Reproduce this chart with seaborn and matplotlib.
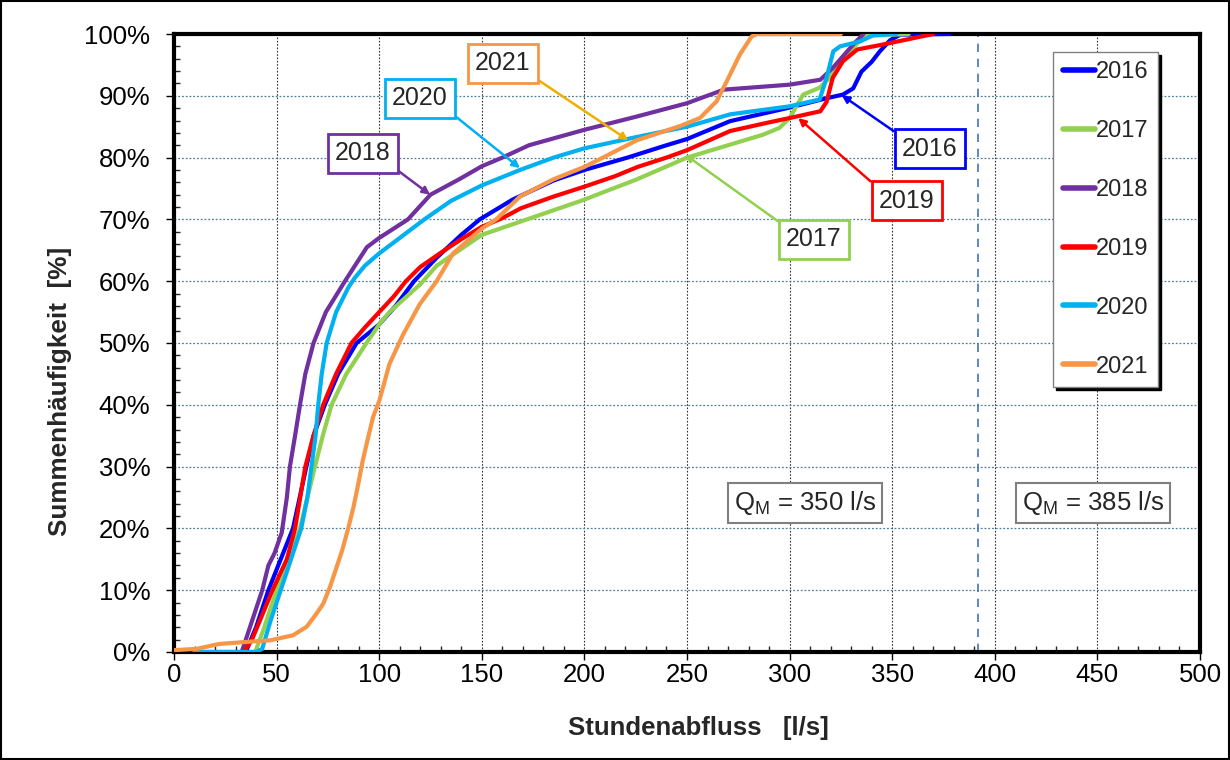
import matplotlib
matplotlib.use("Agg")
import matplotlib.pyplot as plt
from matplotlib import font_manager
from matplotlib.ticker import MultipleLocator, FuncFormatter
from matplotlib.patches import Rectangle
import pandas as pd
import seaborn as sns

# Summenhäufigkeit der Stundenabflüsse je Jahr (Abfluss in l/s, Häufigkeit in %)
x_2016 = [35, 40, 46, 52, 58, 64.5, 68, 73.5, 80, 89, 100, 108, 117, 128, 140, 149, 165, 185,
          200, 221, 240, 250, 271, 300, 318, 326, 331, 335, 340, 344, 349, 354, 378]
y_2016 = [0, 4, 10, 15, 20, 30, 35, 40, 45, 50, 53, 56, 60, 63.8, 67.5, 70, 73.2, 76.3,
          78, 80, 82, 83, 85.9, 88.1, 89.6, 90.2, 91.2, 93.9, 95.5, 97.2, 99, 99.9, 100]

x_2017 = [39.6, 44, 50, 55, 61.4, 65, 68.7, 72.5, 76.8, 84, 93.8, 100, 105, 120, 128, 150, 172,
          200, 210, 225, 250, 271, 287, 295, 300, 306.6, 314.6, 319.5, 324.4, 329.3, 334.2,
          337.4, 358]
y_2017 = [0, 4, 10, 15, 20, 25, 30, 35, 40, 45, 50, 53, 55, 59.5, 62.5, 67.5, 70,
          73.2, 74.5, 76.4, 80, 82.1, 83.7, 84.8, 86.4, 90.2, 91.3, 92.9, 95.1, 97.2, 98.9,
          99.7, 100]

x_2018 = [33, 36, 43, 46, 49, 52.5, 55, 56.5, 59, 61.4, 64, 68, 74, 83.3, 94, 100, 114, 125,
          139, 150, 160, 173, 200, 225, 250, 268, 300, 315, 321, 331, 336]
y_2018 = [0, 3, 10, 14, 16, 19.3, 25, 30, 35, 40, 45, 50, 55, 60, 65.5, 67, 70, 74,
          76.5, 78.6, 80, 82, 84.5, 86.6, 88.8, 91, 91.8, 92.6, 94.5, 98.3, 100]

x_2019 = [34, 38, 48, 55, 59, 64, 68, 72.7, 79, 86.5, 93, 100, 107, 113, 120, 130, 140, 150,
          160, 169, 185, 200, 215, 226, 240, 250, 271, 290, 300, 315, 318, 321, 326, 333, 344,
          357, 370]
y_2019 = [0, 2, 10, 15, 20, 30, 35, 40, 45, 50, 52.5, 55, 57.5, 60, 62.3, 64.6, 66.8, 68.8,
          70.2, 71.8, 73.7, 75.3, 77, 78.5, 80, 81.2, 84.3, 85.7, 86.4, 87.5, 89, 92.9, 95.6,
          97.5, 98.2, 99.1, 100]

x_2020 = [10, 40, 43, 47, 52, 57, 62, 65, 67, 69, 70.3, 72, 74.4, 79, 85, 88, 93, 100, 110,
          122, 135, 150, 168.6, 185, 200, 225, 250, 271, 300, 314.6, 318, 321.3, 324.6, 334.3,
          340.8, 352]
y_2020 = [0, 0, 0.5, 5, 10, 15, 20, 25, 30, 35, 40, 45, 50, 55, 59, 60.5, 62.5, 64.5, 67,
          70, 73, 75.5, 78, 80, 81.5, 83.3, 85, 87, 88.3, 89.4, 92.9, 97.2, 98, 98.8,
          99.8, 100]

x_2021 = [0, 11, 22, 34, 47, 58, 64.7, 69, 72.7, 76, 79.2, 82, 84.9, 87.5, 89.8, 92, 94.6, 97,
          100, 105, 111.7, 119.8, 128, 136, 150, 157, 168.6, 185, 200, 209, 225.5, 246.6,
          256.3, 264.4, 269.3, 275.8, 281.5, 284, 325]
y_2021 = [0.3, 0.5, 1.3, 1.6, 1.9, 2.7, 4.1, 6, 7.8, 10.5, 13.7, 16.5, 20, 23.5, 27.2, 31,
          34.7, 38, 40.6, 46.6, 51.4, 56.3, 60, 64.5, 68.5, 70, 73.7, 76.5, 78.5, 80, 82.8,
          85.1, 86.4, 89.1, 92.3, 96.7, 99.6, 100, 100]

years = ["2016", "2017", "2018", "2019", "2020", "2021"]
series_x = [x_2016, x_2017, x_2018, x_2019, x_2020, x_2021]
series_y = [y_2016, y_2017, y_2018, y_2019, y_2020, y_2021]
colors = {"2016": "#0000FF", "2017": "#92D050", "2018": "#7030A0",
          "2019": "#FF0000", "2020": "#00B0F0", "2021": "#F79646"}

# Beschriftungen: Jahr, Textposition (Abfluss, %), Pfeilspitze (Abfluss, %), Pfeilfarbe, Ansatzpunkt am Kasten
label_year = ["2021", "2020", "2018", "2016", "2019", "2017"]
label_pos = [(160.3, 95.3), (119.9, 89.6), (92.1, 80.7), (368.4, 81.4), (357.2, 73.0), (311.9, 66.8)]
label_tip = [(221.4, 82.8), (168.6, 78.3), (124.8, 74.0), (325.4, 90.1), (304.2, 86.4), (249.0, 80.5)]
label_arrow = ["#EDB000", "#00B0F0", "#7030A0", "#0000FF", "#FF0000", "#92D050"]
label_anchor = [(1, 0), (1, 0), (1, 0), (0, 1), (0, 1), (0, 1)]

qm_texts = ["Q$_\\mathregular{M}$ = 350 l/s", "Q$_\\mathregular{M}$ = 385 l/s"]
qm_pos = [(307.5, 24.1), (447.9, 24.1)]
qm_line = 392

df = pd.concat(
    [pd.DataFrame({"Abfluss": xs, "Anteil": ys, "Jahr": yr})
     for yr, xs, ys in zip(years, series_x, series_y)],
    ignore_index=True,
)

sns.set_style("ticks")
plt.rcParams["font.family"] = ["Liberation Sans", "DejaVu Sans"]
plt.rcParams["mathtext.fontset"] = "custom"
plt.rcParams["mathtext.rm"] = "Liberation Sans"

installed = {f.name for f in font_manager.fontManager.ttflist}
if "Liberation Sans Narrow" in installed:
    ylab_family, ylab_size = "Liberation Sans Narrow", 23
else:
    ylab_family, ylab_size = "Liberation Sans", 18.8

fig = plt.figure(figsize=(12.3, 7.6), dpi=100)
ax = fig.add_axes([0.14146, 0.14211, 0.83415, 0.81315])

sns.lineplot(data=df, x="Abfluss", y="Anteil", hue="Jahr", hue_order=years,
             palette=colors, sort=False, estimator=None, linewidth=3,
             ax=ax, legend=True)
for ln in ax.get_lines():
    ln.set_solid_capstyle("round")
    ln.set_solid_joinstyle("round")
    ln.set_zorder(3)

ax.axvline(qm_line, color="#4472C4", ls=(0, (5, 4)), lw=1.2, zorder=1)

ax.set_xlim(0, 500)
ax.set_ylim(0, 100)
ax.xaxis.set_major_locator(MultipleLocator(50))
ax.xaxis.set_minor_locator(MultipleLocator(10))
ax.yaxis.set_major_locator(MultipleLocator(10))
ax.yaxis.set_minor_locator(MultipleLocator(2))
ax.yaxis.set_major_formatter(FuncFormatter(lambda v, p: f"{v:.0f}%"))

ax.set_axisbelow(True)
ax.xaxis.grid(True, which="major", color="#333333", ls=(0, (1.5, 1.5)), lw=0.8)
ax.yaxis.grid(True, which="major", color="#4f7f95", ls=(0, (1.5, 1.5)), lw=0.9)

ax.tick_params(axis="both", which="major", direction="out", length=6, width=1,
               labelsize=18.5, colors="black", bottom=True, left=True)
ax.tick_params(axis="y", which="major", pad=11)
ax.tick_params(axis="x", which="major", pad=2)
ax.tick_params(axis="both", which="minor", direction="in", length=4.5, width=1,
               bottom=True, left=True)

for sp in ax.spines.values():
    sp.set_visible(True)
    sp.set_linewidth(3)
    sp.set_color("black")

ax.set_xlabel("Stundenabfluss   [l/s]", fontsize=18.5, fontweight="bold")
ax.xaxis.set_label_coords(0.511, -0.104)
ax.set_ylabel("Summenhäufigkeit  [%]", fontsize=ylab_size, fontweight="bold",
              family=[ylab_family, "Liberation Sans"])
ax.yaxis.set_label_coords(-0.099, 0.422)

for yr, pos, tip, acol, anc in zip(label_year, label_pos, label_tip, label_arrow, label_anchor):
    ax.annotate(yr, xy=tip, xytext=pos, textcoords="data", fontsize=18,
                ha="center", va="center", zorder=6,
                bbox=dict(boxstyle="square,pad=0.3", fc="white", ec=colors[yr], lw=2),
                arrowprops=dict(arrowstyle="-|>", color=acol, lw=1.8, mutation_scale=11,
                                shrinkA=0, shrinkB=0, relpos=anc))

for txt, pos in zip(qm_texts, qm_pos):
    ax.text(pos[0], pos[1], txt, fontsize=18.5, ha="center", va="center", zorder=6,
            bbox=dict(boxstyle="square,pad=0.22", fc="white", ec="#808080", lw=1.5))

handles, labels = ax.get_legend_handles_labels()
leg = ax.legend(handles, labels, loc="upper left", bbox_to_anchor=(0.857, 0.971),
                fontsize=17, frameon=True, fancybox=False,
                shadow={"color": "black", "alpha": 1}, edgecolor="#808080",
                framealpha=1, borderpad=0.4, labelspacing=1.56, handlelength=1.35,
                handletextpad=0.05, borderaxespad=0)
leg.get_frame().set_linewidth(1)
for h in leg.get_lines():
    h.set_linewidth(4)
leg.set_zorder(7)

fig.add_artist(Rectangle((0.001, 0.0015), 0.998, 0.997, transform=fig.transFigure,
                         fill=False, ec="black", lw=1.5))

fig.savefig("out.png", dpi=100)
